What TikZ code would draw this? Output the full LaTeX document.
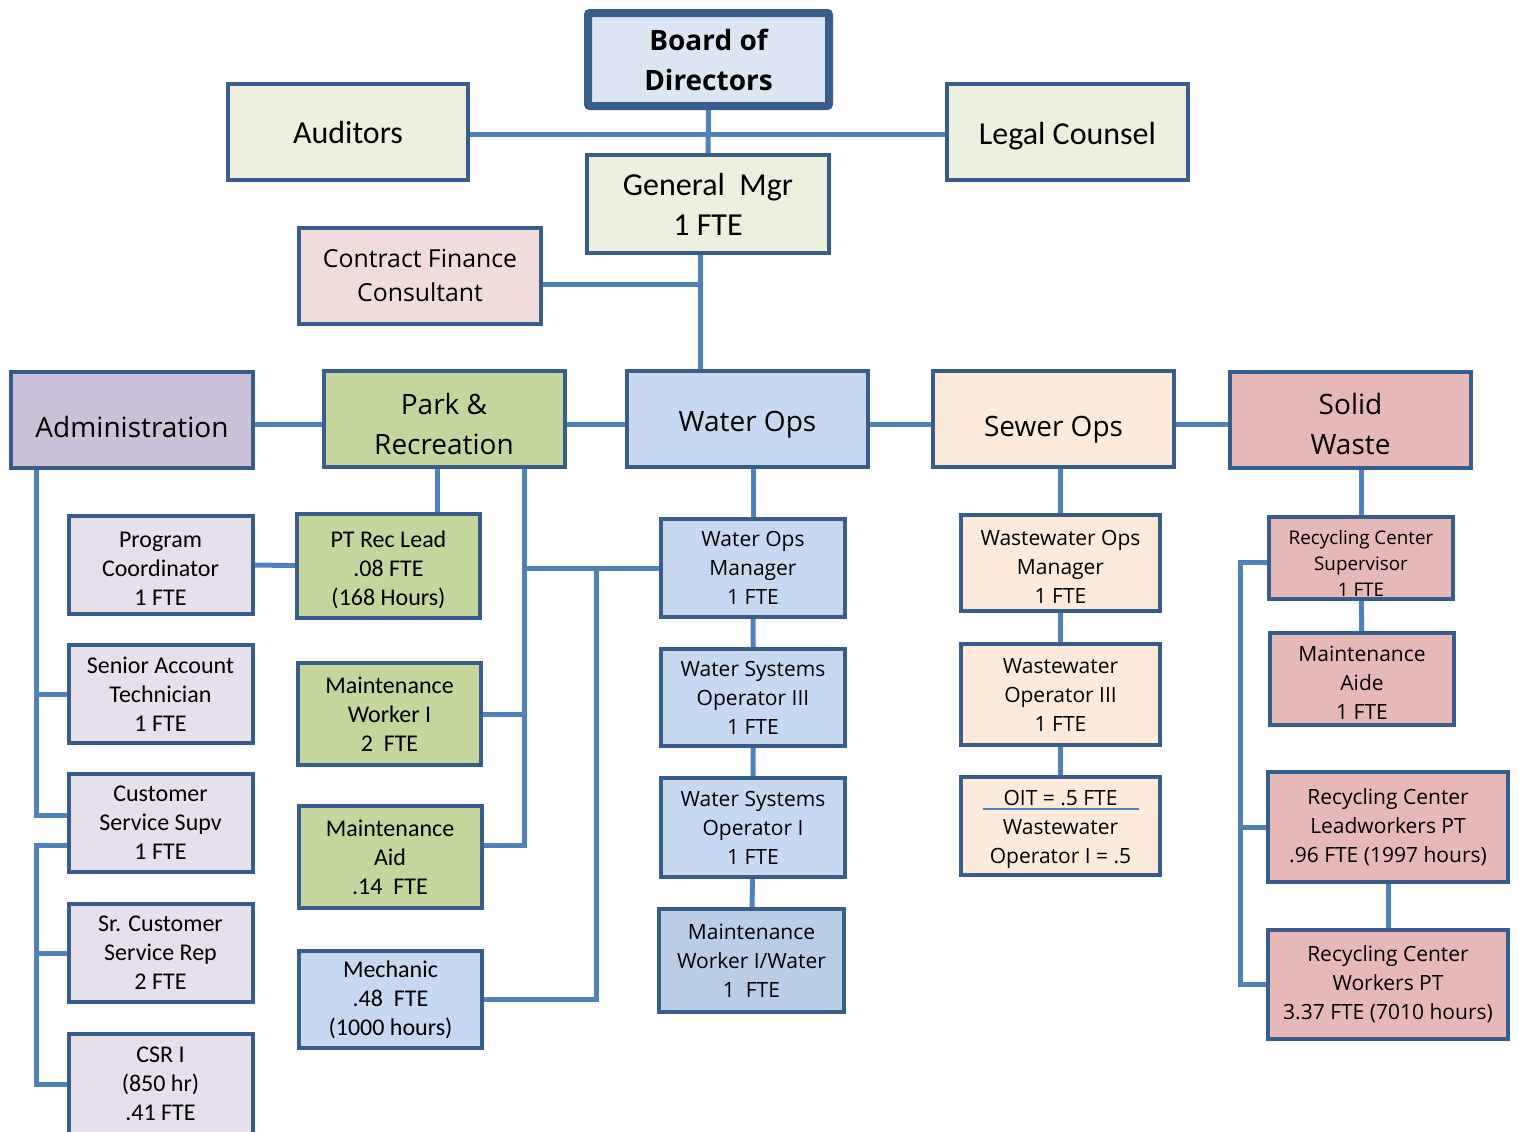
\documentclass[tikz,border=0pt]{standalone}
\usepackage{fontspec}
\setmainfont{Open Sans}
\newfontfamily\calfont{Carlito}
\usetikzlibrary{calc, backgrounds}
\definecolor{boxline}{HTML}{385D8A}
\definecolor{wireblue}{HTML}{4F81BD}
\definecolor{boardfill}{HTML}{DCE6F2}
\definecolor{topfill}{HTML}{EBF1DE}
\definecolor{cfcfill}{HTML}{F2DCDB}
\definecolor{adminfill}{HTML}{CCC1DA}
\definecolor{stafffill}{HTML}{E6E0EC}
\definecolor{parkfill}{HTML}{C3D69B}
\definecolor{waterfill}{HTML}{C6D9F1}
\definecolor{mwwfill}{HTML}{B9CDE5}
\definecolor{sewerfill}{HTML}{FDEADA}
\definecolor{solidfill}{HTML}{E6B9B8}
\newcommand{\hdrop}[1]{\rule{0pt}{#1pt}}
\tikzset{
    my-box/.style={
        draw=boxline, line width=2pt, align=center, inner sep=1pt
    },
    my-head/.style={
        my-box, font=\fontsize{14}{20}\selectfont, minimum width=120.5pt, minimum height=48pt
    },
    my-top/.style={
        my-box, fill=topfill, font=\calfont\fontsize{16}{20}\selectfont, minimum height=48pt
    },
    my-staff/.style={
        my-box, font=\calfont\fontsize{12}{14.5}\selectfont, minimum width=92pt
    },
    my-ops/.style={
        my-box, font=\fontsize{10.5}{14.5}\selectfont
    },
    my-wire/.style={
        draw=wireblue, line width=2.5pt
    },
}

\begin{document}
\begin{tikzpicture}[x=0.5pt, y=-0.5pt]

        \useasboundingbox (0,0) rectangle (1519,1131);

        % BOARD, GM AND ADVISERS
        \node[my-box, fill=boardfill, line width=4pt, rounded corners=1pt, font=\bfseries\fontsize{14}{20}\selectfont,
              minimum width=120.5pt, minimum height=46.5pt]          (BOARD) at (708.5,59.5) {Board of\\Directors};
        \node[my-top, minimum width=120pt]                            (AUD)   at (348,132)    {\hdrop{12}Auditors};
        \node[my-top, minimum width=120.5pt]                          (LEGAL) at (1067.5,131.5) {\hdrop{16}Legal Counsel};
        \node[my-top, minimum width=121pt, minimum height=49pt]       (GM)    at (708,204)    {General\ \ Mgr\\1 FTE};
        \node[my-box, fill=cfcfill, font=\fontsize{12.4}{17}\selectfont,
              minimum width=121pt, minimum height=48pt]               (CFC)   at (420,276)    {Contract Finance\\Consultant};

        % DEPARTMENTS
        \node[my-head, fill=adminfill, minimum width=121pt] (ADMIN) at (132,420)      {\hdrop{18}Administration};
        \node[my-head, fill=parkfill]                        (PARK)  at (444,419)      {\hdrop{16}Park \&\\Recreation};
        \node[my-head, fill=waterfill]                       (WATER) at (747.5,418.5)  {\hdrop{16}Water Ops};
        \node[my-head, fill=sewerfill]                       (SEWER) at (1053.5,419)   {\hdrop{21}Sewer Ops};
        \node[my-head, fill=solidfill]                       (SOLID) at (1350.5,420)   {\hdrop{15}Solid\\Waste};

        % ADMINISTRATION STAFF
        \node[my-staff, fill=stafffill, minimum height=49pt] (PC)   at (160.5,564.5) {\hdrop{12}Program\\Coordinator\\1 FTE};
        \node[my-staff, fill=stafffill, minimum height=49pt] (SAT)  at (160.5,694)   {Senior Account\\Technician\\1 FTE};
        \node[my-staff, fill=stafffill, minimum height=49pt] (CSS)  at (160.5,823)   {Customer\\Service Supv\\1 FTE};
        \node[my-staff, fill=stafffill, minimum height=49pt] (SCSR) at (160.5,953)   {Sr. Customer\\Service Rep\\2 FTE};
        \node[my-staff, fill=stafffill, minimum height=50pt] (CSR)  at (160.5,1084)  {CSR I\\(850 hr)\\.41 FTE};

        % PARK STAFF
        \node[my-staff, fill=parkfill, minimum width=91.5pt, minimum height=52pt]   (PTRL) at (388.5,566)   {\hdrop{12}PT Rec Lead\\.08 FTE\\(168 Hours)};
        \node[my-staff, fill=parkfill, minimum width=91.5pt, minimum height=51pt]   (MW1)  at (389.5,714)   {Maintenance\\Worker I\\2\ \ FTE};
        \node[my-staff, fill=parkfill, minimum width=91.5pt, minimum height=51pt]   (MAID) at (390,857)     {Maintenance\\Aid\\.14\ \ FTE};
        \node[my-staff, fill=waterfill, minimum width=91.5pt, minimum height=48.5pt] (MECH) at (390.5,999.5) {Mechanic\\.48\ \ FTE\\(1000 hours)};

        % WATER STAFF
        \node[my-ops, fill=waterfill, minimum width=92pt, minimum height=49pt]   (WOM)  at (753,568)     {Water Ops\\Manager\\1 FTE};
        \node[my-ops, fill=waterfill, minimum width=92pt, minimum height=48.5pt] (WSO3) at (753,697.5)   {Water Systems\\Operator III\\1 FTE};
        \node[my-ops, fill=waterfill, minimum width=92pt, minimum height=49.5pt] (WSO1) at (753,827.5)   {Water Systems\\Operator I\\1 FTE};
        \node[my-ops, fill=mwwfill, minimum width=92.5pt, minimum height=51.5pt] (MWW)  at (751.5,960.5) {Maintenance\\Worker I/Water\\1\ \ FTE};

        % SEWER STAFF
        \node[my-ops, fill=sewerfill, minimum width=99.5pt, minimum height=48pt]   (WWOM) at (1060.5,563)   {\hdrop{11}Wastewater Ops\\Manager\\1 FTE};
        \node[my-ops, fill=sewerfill, minimum width=99.5pt, minimum height=50.5pt] (WWO3) at (1060.5,694.5) {Wastewater\\Operator III\\1 FTE};
        \node[my-ops, fill=sewerfill, minimum width=99.5pt, minimum height=49pt]   (OIT)  at (1060.5,826)   {\hdrop{11}OIT = .5 FTE\\Wastewater\\Operator I = .5};
        \draw[draw=wireblue, line width=1pt] ($(OIT.north)+(-78,34)$) -- ($(OIT.north)+(78,34)$);

        % SOLID WASTE STAFF
        \node[my-ops, fill=solidfill, font=\fontsize{9.4}{13}\selectfont,
              minimum width=92pt, minimum height=40.5pt]                           (RCS)   at (1361,557.5) {\hdrop{13}Recycling Center\\Supervisor\\1 FTE};
        \node[my-ops, fill=solidfill, minimum width=92pt, minimum height=46pt]     (MAIDE) at (1362,679)   {\hdrop{11}Maintenance\\Aide\\1 FTE};
        \node[my-ops, fill=solidfill, minimum width=120pt, minimum height=55pt]    (RCL)   at (1388,827)   {Recycling Center\\Leadworkers PT\\.96 FTE (1997 hours)};
        \node[my-ops, fill=solidfill, minimum width=120pt, minimum height=54.5pt]  (RCW)   at (1388,984.5) {Recycling Center\\Workers PT\\3.37 FTE (7010 hours)};

        % WIRES
        \begin{scope}[on background layer]
        \coordinate (GMTAP)   at ($(GM.south)+(-8,0)$);
        \coordinate (CFCOUT)  at ($(CFC.east)+(0,8)$);
        \coordinate (AUDOUT)  at ($(AUD.east)+(0,2)$);
        \coordinate (ROW)     at ($(WATER.center)+(0,6)$);
        \coordinate (ADTAP)   at ($(ADMIN.south west)+(27,0)$);
        \coordinate (PARKTAP) at ($(PARK.south)+(-7,0)$);
        \coordinate (PARKRT)  at ($(PARK.south east)+(-42,0)$);
        \coordinate (MECHTAP) at ($(WOM.west)+(-63,0)$);
        \coordinate (SWTAP)   at ($(RCS.west)+(-27,5)$);

        \draw[my-wire] (BOARD.south) -- (GM.north);
        \draw[my-wire] (AUDOUT) -- (AUDOUT -| LEGAL.west);
        \draw[my-wire] (GMTAP) -- (GMTAP |- WATER.north);
        \draw[my-wire] (CFCOUT) -- (CFCOUT -| GMTAP);
        \draw[my-wire] (ADMIN |- ROW) -- (SOLID |- ROW);

        % ADMINISTRATION WIRES
        \draw[my-wire] (ADTAP) |- ($(CSS.west)+(0,-8)$);
        \draw[my-wire] ($(PC.west)+(0,-7)$) -- ($(PC.west)+(0,-7)$ -| ADTAP);
        \draw[my-wire] (SAT.west) -- (SAT.west -| ADTAP);
        \draw[my-wire] ($(CSS.west)+(0,22)$) -| (ADTAP |- CSR.west) -- (CSR.west);
        \draw[my-wire] (SCSR.west) -- (SCSR.west -| ADTAP);

        % PARK WIRES
        \draw[my-wire] (PC) -- (PTRL);
        \draw[my-wire] (PARKTAP) -- (PARKTAP |- PTRL.north);
        \draw[my-wire] (PARKRT) |- ($(MAID.east)+(0,-12)$);
        \draw[my-wire] (MW1.east) -- (MW1.east -| PARKRT);
        \draw[my-wire] (WOM.west) -- (WOM.west -| PARKRT);
        \draw[my-wire] (MECHTAP) |- (MECH.east);

        % WATER, SEWER AND SOLID WASTE WIRES
        \draw[my-wire] (WATER.south -| WOM.north) -- (WOM.north);
        \draw[my-wire] (WOM) -- (WSO3) -- (WSO1) -- (MWW);
        \draw[my-wire] (SEWER.south -| WWOM.north) -- (WWOM.north);
        \draw[my-wire] (WWOM) -- (WWO3) -- (OIT);
        \draw[my-wire] (SOLID.south -| RCS.north) -- (RCS.north);
        \draw[my-wire] (RCS) -- (MAIDE);
        \draw[my-wire] (SWTAP -| RCS) -| (SWTAP |- RCW) -- (RCW);
        \draw[my-wire] (RCL) -- (RCL -| SWTAP);
        \draw[my-wire] (RCL) -- (RCW);
        \end{scope}

    \end{tikzpicture}
\end{document}
